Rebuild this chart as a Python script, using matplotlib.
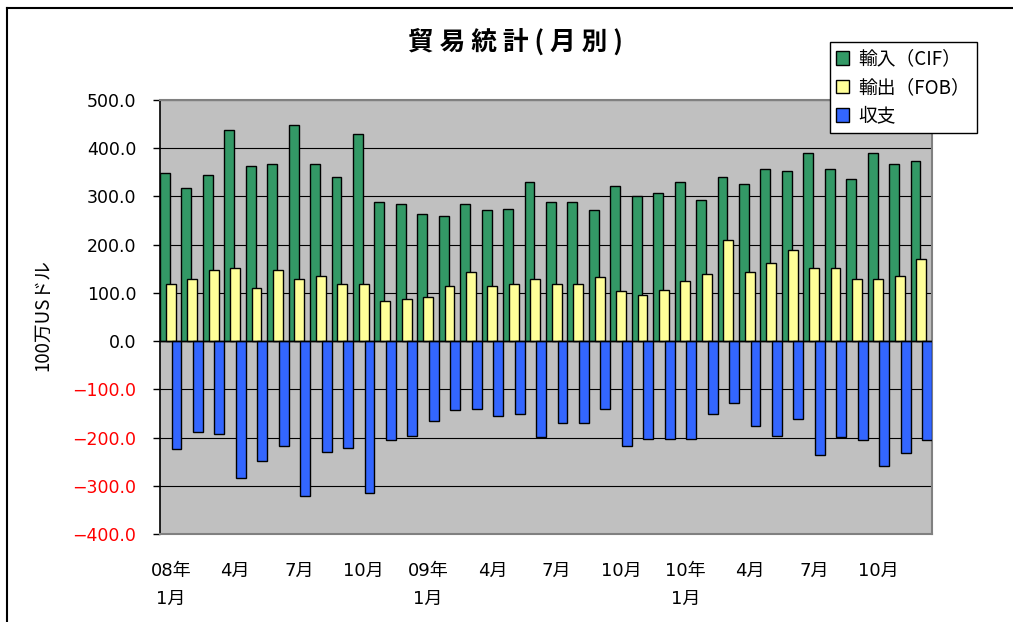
import matplotlib
matplotlib.use('Agg')
import matplotlib.pyplot as plt
from matplotlib.lines import Line2D
from matplotlib.ticker import FuncFormatter
import numpy as np

plt.rcParams['font.family'] = ['Noto Sans CJK JP', 'DejaVu Sans']

# 08年1月 - 10年12月
months = list(range(1, 37))
tick_labels = ['08年\n1月', '4月', '7月', '10月',
               '09年\n1月', '4月', '7月', '10月',
               '10年\n1月', '4月', '7月', '10月']

imports_cif = [348, 318, 345, 438, 363, 367, 449, 367, 340, 430, 289, 284,
               263, 260, 284, 271, 274, 330, 289, 289, 271, 322, 300, 307,
               330, 293, 340, 326, 356, 352, 390, 356, 337, 390, 367, 374]
exports_fob = [118, 129, 147, 152, 111, 147, 129, 136, 118, 118, 84, 88,
               92, 114, 144, 114, 118, 129, 118, 118, 133, 103, 96, 107,
               125, 140, 210, 144, 163, 188, 152, 152, 129, 129, 136, 170]
balance = [-224, -188, -192, -284, -248, -218, -321, -229, -221, -314, -206, -196,
           -166, -143, -140, -155, -152, -199, -170, -170, -140, -218, -203, -203,
           -203, -152, -128, -177, -196, -162, -237, -199, -206, -259, -233, -206]

fig = plt.figure(figsize=(10.13, 6.22), dpi=100)
ax = fig.add_axes([160/1013, 1-534/622, 772/1013, 434/622])
ax.set_facecolor('#C0C0C0')

x = np.arange(len(months))
w = 0.46
off = 0.27
ax.bar(x - off, imports_cif, w, color='#339966', edgecolor='black', linewidth=1.0,
       label='輸入（CIF）', zorder=3)
ax.bar(x, exports_fob, w, color='#FFFF99', edgecolor='black', linewidth=1.0,
       label='輸出（FOB）', zorder=4)
ax.bar(x + off, balance, w, color='#3366FF', edgecolor='black', linewidth=1.0,
       label='収支', zorder=5)

ax.set_xlim(-0.5, len(months) - 0.5)
ax.set_ylim(-400, 500)
ax.set_yticks(np.arange(-400, 501, 100))
ax.yaxis.set_major_formatter(FuncFormatter(lambda v, p: f'{v:.1f}'.replace('-', '\u2212')))
for t in ax.get_yticklabels():
    t.set_family(['DejaVu Sans', 'Noto Sans CJK JP'])
    t.set_fontsize(12.5)
    if float(t.get_text().replace('\u2212', '-')) < 0:
        t.set_color('red')
ax.tick_params(axis='y', direction='out', length=5, width=1, pad=12)
ax.grid(axis='y', color='black', linewidth=0.8, zorder=1)
ax.set_axisbelow(True)
ax.axhline(0, color='black', linewidth=1.0, zorder=6)

ax.set_xticks(x[::3])
ax.set_xticklabels(tick_labels, fontsize=13, linespacing=1.75,
                   family=['DejaVu Sans', 'Noto Sans CJK JP'], va='top')
ax.tick_params(axis='x', length=0, pad=20)

for s in ['top', 'right', 'bottom']:
    ax.spines[s].set_color('#808080')
    ax.spines[s].set_linewidth(1.5)
ax.spines['left'].set_color('black')
ax.spines['left'].set_linewidth(1.2)

ax.set_ylabel('100万USドル', fontsize=13.5)
ax.yaxis.set_label_coords(53/1013, 1-315/622, transform=fig.transFigure)

fig.text(515/1013, 1-42/622, '貿 易 統 計 ( 月 別 )', ha='center', va='center',
         fontsize=18.5, fontweight='bold')

leg = fig.legend(loc='upper right', bbox_to_anchor=(977/1013, 1-42/622),
                 fontsize=13.5, frameon=True, fancybox=False, framealpha=1,
                 edgecolor='black', borderpad=0.35, labelspacing=0.4,
                 handlelength=0.7, handleheight=0.7, handletextpad=0.5,
                 borderaxespad=0)
leg.get_frame().set_linewidth(1.0)

fig.add_artist(Line2D([7/1013, 1], [1-8/622, 1-8/622], color='black', linewidth=1.5))
fig.add_artist(Line2D([7/1013, 7/1013], [0, 1-8/622], color='black', linewidth=1.5))

fig.savefig('out.png', dpi=100)
